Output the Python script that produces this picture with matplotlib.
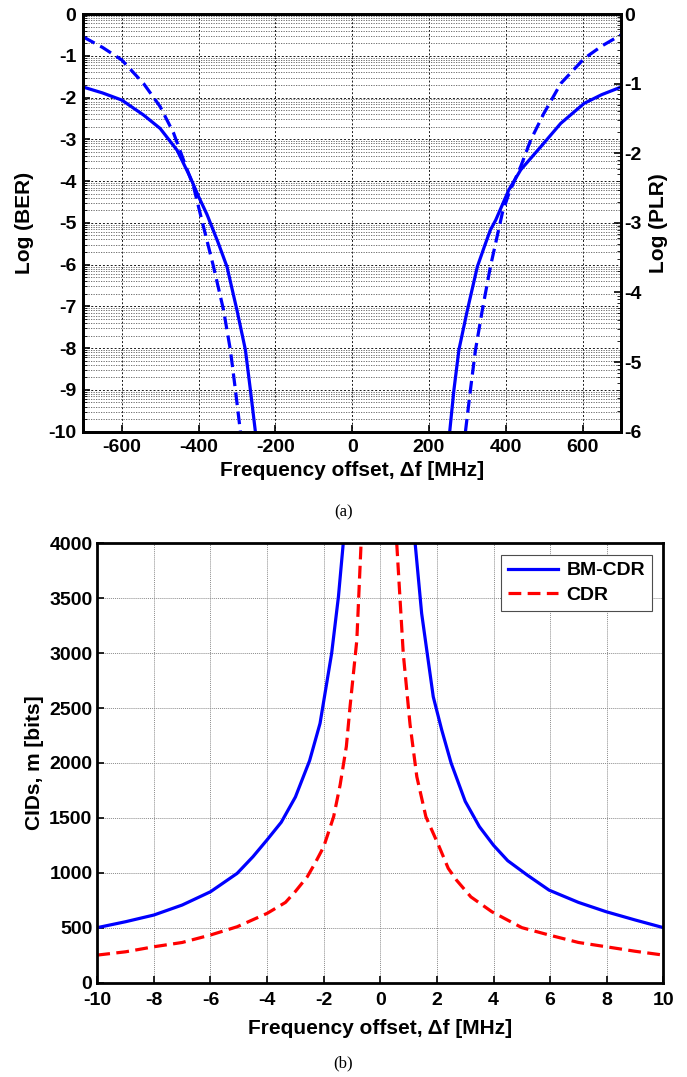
import numpy as np
import matplotlib
matplotlib.use('Agg')
import matplotlib.pyplot as plt
from matplotlib.ticker import FixedLocator

plt.rcParams['font.family'] = ['Liberation Sans', 'DejaVu Sans']
plt.rcParams['font.weight'] = 'bold'
plt.rcParams['axes.unicode_minus'] = False

# ---- panel (a): Log(BER) solid, left axis / Log(PLR) dashed, right axis
ber_x_l = [-700, -650, -600, -543, -500, -456, -422, -400, -378, -350, -326, -300, -278, -265, -252]
ber_y_l = [-1.75, -1.89, -2.06, -2.42, -2.74, -3.26, -3.90, -4.37, -4.80, -5.45, -6.05, -7.09, -8.04, -9.00, -10.0]
ber_x_r = [254, 265, 278, 300, 326, 345, 360, 374, 408, 439, 491, 543, 604, 650, 700]
ber_y_r = [-10.0, -9.00, -8.04, -7.09, -6.05, -5.55, -5.17, -4.93, -4.21, -3.73, -3.18, -2.62, -2.14, -1.93, -1.75]

plr_x_l = [-700, -650, -600, -543, -500, -465, -439, -413, -396, -361, -335, -317, -304, -291]
plr_y_l = [-0.33, -0.48, -0.66, -1.00, -1.33, -1.71, -2.10, -2.48, -2.86, -3.63, -4.25, -4.83, -5.40, -6.0]
plr_x_r = [295, 308, 321, 339, 360, 391, 408, 439, 465, 499, 543, 604, 650, 700]
plr_y_r = [-6.0, -5.40, -4.83, -4.25, -3.63, -2.86, -2.58, -2.19, -1.81, -1.43, -1.00, -0.64, -0.46, -0.30]

# ---- panel (b): CIDs vs frequency offset
bm_x_l = [-10, -9, -8, -7, -6, -5.06, -4.5, -4, -3.5, -3.0, -2.5, -2.13, -1.72, -1.48, -1.31]
bm_y_l = [500, 554, 615, 706, 827, 994, 1146, 1300, 1460, 1690, 2020, 2360, 2998, 3514, 4000]
bm_x_r = [1.23, 1.46, 1.87, 2.17, 2.50, 3.0, 3.5, 4.0, 4.5, 5.19, 5.96, 7.0, 7.98, 9.0, 10]
bm_y_r = [4000, 3362, 2603, 2300, 2000, 1650, 1420, 1250, 1110, 979, 842, 730, 645, 570, 500]

cdr_x_l = [-10, -9, -8, -7, -6, -5.06, -4, -3.35, -3.0, -2.58, -2.3, -2.0, -1.65, -1.42, -1.2, -1.07, -0.83, -0.68]
cdr_y_l = [250, 280, 326, 365, 433, 508, 630, 730, 830, 964, 1090, 1237, 1510, 1800, 2150, 2512, 3119, 4000]
cdr_x_r = [0.58, 0.81, 1.05, 1.29, 1.61, 2.08, 2.40, 2.70, 3.2, 3.94, 5.0, 5.96, 7.0, 7.98, 9.0, 10]
cdr_y_r = [4000, 2998, 2350, 1874, 1510, 1237, 1040, 930, 780, 645, 500, 433, 365, 326, 285, 250]

fig = plt.figure(figsize=[6.87, 10.77], dpi=100)

# ======== (a) ========
ax = fig.add_axes([0.1213, 0.5992, 0.7826, 0.3878])
ax.plot(ber_x_l, ber_y_l, color='blue', lw=2.3)
ax.plot(ber_x_r, ber_y_r, color='blue', lw=2.3)
ax.set_xlim(-700, 700)
ax.set_ylim(-10, 0)
ax.set_xticks(np.arange(-600, 601, 200))
ax.set_yticks(np.arange(-10, 1, 1))
minor = [d + np.log10(k) for d in range(-10, 0) for k in range(2, 10)]
ax.yaxis.set_minor_locator(FixedLocator(minor))
ax.grid(True, which='major', color='0.1', linestyle=(0, (2, 2)), lw=0.7)
ax.grid(True, which='minor', axis='y', color='0.35', linestyle=(0, (1.5, 1.5)), lw=0.6)
ax.tick_params(direction='in', labelsize=14, width=1.2, length=5, pad=5)
ax.tick_params(which='minor', direction='in', length=3, width=0.6)
for s in ax.spines.values():
    s.set_linewidth(2)
ax.set_ylabel('Log (BER)', fontsize=15, fontweight='bold', labelpad=10)
ax.set_xlabel('Frequency offset, \u0394f [MHz]', fontsize=15, fontweight='bold', labelpad=4)

ax2 = ax.twinx()
ax2.plot(plr_x_l, plr_y_l, color='blue', lw=2.3, linestyle=(0, (4, 2)))
ax2.plot(plr_x_r, plr_y_r, color='blue', lw=2.3, linestyle=(0, (4, 2)))
ax2.set_ylim(-6, 0)
ax2.set_yticks(np.arange(-6, 1, 1))
minor2 = [d + np.log10(k) for d in range(-6, 0) for k in range(2, 10)]
ax2.yaxis.set_minor_locator(FixedLocator(minor2))
ax2.tick_params(direction='in', labelsize=14, width=1.2, length=5, pad=2)
ax2.tick_params(which='minor', direction='in', length=3, width=0.6)
ax2.set_ylabel('Log (PLR)', fontsize=15, fontweight='bold', labelpad=6)
for s in ax2.spines.values():
    s.set_linewidth(2)

fig.text(0.5, 0.5245, '(a)', ha='center', va='center', fontsize=12,
         family='Liberation Serif', fontweight='normal')

# ======== (b) ========
bx = fig.add_axes([0.1416, 0.0877, 0.824, 0.4078])
bx.plot(bm_x_l, bm_y_l, color='blue', lw=2.3, label='BM-CDR')
bx.plot(bm_x_r, bm_y_r, color='blue', lw=2.3)
bx.plot(cdr_x_l, cdr_y_l, color='red', lw=2.3, linestyle=(0, (4, 2)), label='CDR')
bx.plot(cdr_x_r, cdr_y_r, color='red', lw=2.3, linestyle=(0, (4, 2)))
bx.set_xlim(-10, 10)
bx.set_ylim(0, 4000)
bx.set_xticks(np.arange(-10, 11, 2))
bx.set_yticks(np.arange(0, 4001, 500))
bx.grid(True, color='0.55', linestyle=(0, (1, 1)), lw=0.7)
bx.tick_params(direction='in', labelsize=14, width=1.2, length=5)
bx.tick_params(axis='x', pad=7)
for s in bx.spines.values():
    s.set_linewidth(2)
bx.set_ylabel('CIDs, m [bits]', fontsize=15, fontweight='bold', labelpad=4)
bx.set_xlabel('Frequency offset, \u0394f [MHz]', fontsize=15, fontweight='bold', labelpad=7)
leg = bx.legend(loc='upper right', fontsize=14, fancybox=False, framealpha=1,
                edgecolor='0.3', handlelength=2.6, borderpad=0.35, labelspacing=0.35,
                borderaxespad=0.6, handletextpad=0.4)
leg.get_frame().set_linewidth(0.8)

fig.text(0.5, 0.013, '(b)', ha='center', va='center', fontsize=12,
         family='Liberation Serif', fontweight='normal')

fig.savefig('out.png', dpi=100)
